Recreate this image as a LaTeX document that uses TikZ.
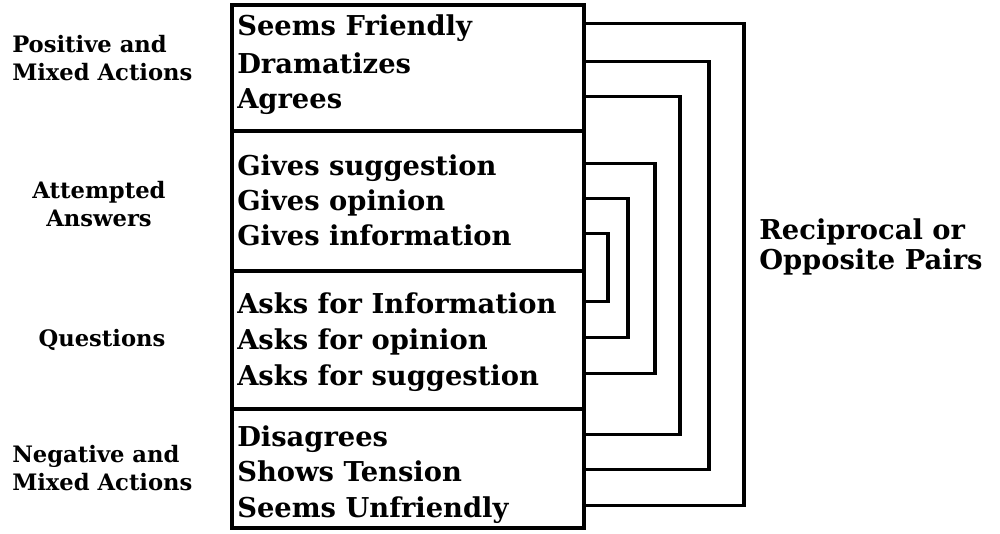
\documentclass[tikz,border=0pt]{standalone}
\usepackage{fontspec}
\setmainfont{DejaVu Serif}
\usetikzlibrary{positioning,calc}
\tikzset{
  item/.style={anchor=west, inner sep=0pt, text height=14.9pt, text depth=0pt,
    font=\fontsize{20.5}{22}\selectfont\bfseries},
  group/.style={inner sep=0pt, align=center,
    font=\fontsize{17}{21}\selectfont\bfseries},
  bracket/.style={line width=2.6pt, line cap=rect}
}

\begin{document}
\begin{tikzpicture}[x=0.75pt, y=-0.75pt]
    \useasboundingbox (0,0) rectangle (1000,533);

    % Category box
    \coordinate (boxTL) at (232,5);
    \coordinate (boxBR) at (584,528);
    \draw[line width=2.6pt] (boxTL) rectangle (boxBR);
    \foreach \y in {131,271,409} {
        \draw[line width=2.6pt] (232,\y) -- (584,\y);
    }

    % Category entries
    \foreach \name/\y/\txt in {sf/26/Seems Friendly, dr/64/Dramatizes, ag/99/Agrees,
        gs/166/Gives suggestion, go/201/Gives opinion, gi/236/Gives information,
        ai/304/Asks for Information, ao/340/Asks for opinion, as/376/Asks for suggestion,
        di/437/Disagrees, st/472/Shows Tension, su/508/Seems Unfriendly} {
        \node[item] (\name) at (237,\y) {\txt};
    }

    % Group labels on the left
    \node[group, align=left, anchor=west] (pos) at (12,58) {Positive and\\Mixed Actions};
    \node[group] (att) at (99,204) {Attempted\\Answers};
    \node[group] (que) at (102,340) {Questions};
    \node[group, align=left, anchor=west] (neg) at (12,468) {Negative and\\Mixed Actions};

    % Pair brackets
    \foreach \a/\b/\x in {sf/su/744, dr/st/709, ag/di/680, gs/as/655, go/ao/628, gi/ai/608} {
        \draw[bracket] ([yshift=2pt]\a.center -| boxBR) -- ++({\x-584},0)
            |- ([yshift=2pt]\b.center -| boxBR);
    }

    % Label on the right
    \node[anchor=west, inner sep=0pt, align=left,
        font=\fontsize{20.5}{22.5}\selectfont\bfseries] (pairs) at (759,247)
        {Reciprocal or\\Opposite Pairs};
\end{tikzpicture}
\end{document}
